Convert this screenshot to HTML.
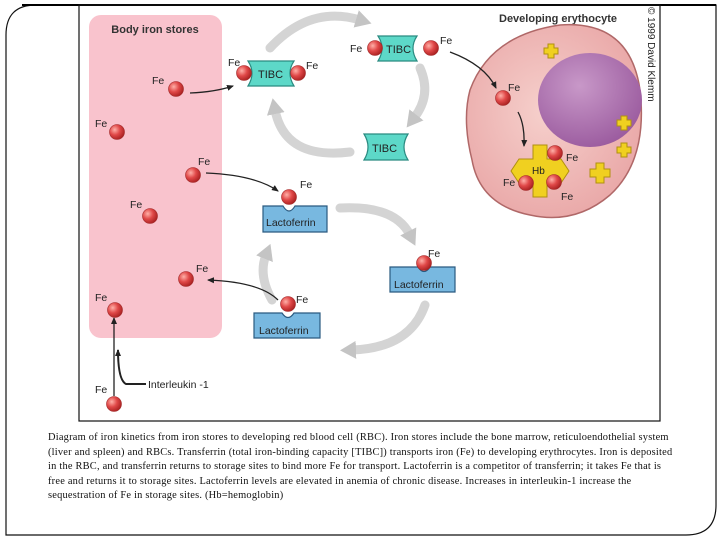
<!DOCTYPE html>
<html><head><style>
body{margin:0;width:720px;height:540px;background:#fff;overflow:hidden;position:relative;font-family:"Liberation Sans",sans-serif}
.cap{position:absolute;left:48px;top:431px;white-space:nowrap;font-family:"Liberation Serif",serif;font-size:10.4px;line-height:14.6px;color:#111;letter-spacing:0.22px}
</style></head><body>
<svg width="720" height="540" style="position:absolute;left:0;top:0">
<defs>
<radialGradient id="ball" cx="0.35" cy="0.35" r="0.7"><stop offset="0" stop-color="#ffb0a8"/><stop offset="0.5" stop-color="#e04848"/><stop offset="1" stop-color="#a82020"/></radialGradient>
<radialGradient id="cell" cx="0.45" cy="0.45" r="0.6"><stop offset="0" stop-color="#f6d0cc"/><stop offset="1" stop-color="#e9a7a7"/></radialGradient>
<radialGradient id="nuc" cx="0.4" cy="0.35" r="0.7"><stop offset="0" stop-color="#c898c8"/><stop offset="1" stop-color="#9a5a9e"/></radialGradient>
<marker id="ah" markerUnits="userSpaceOnUse" markerWidth="8" markerHeight="8" refX="6" refY="4" orient="auto"><path d="M0,1 L7,4 L0,7 z" fill="#222"/></marker>
<marker id="gh" markerUnits="userSpaceOnUse" markerWidth="16" markerHeight="18" refX="4" refY="9" orient="auto"><path d="M0,0 L16,9 L0,18 z" fill="#c4c4c4"/></marker>
</defs>
<path d="M36,5 H716 V505 Q716,535 686,535 H6 V35 Q6,5 36,5 Z" fill="none" stroke="#111" stroke-width="1.2"/>
<line x1="22" y1="5" x2="716" y2="5" stroke="#000" stroke-width="2"/>
<rect x="79" y="5" width="581" height="416" fill="none" stroke="#111" stroke-width="1.2"/>
<rect x="89" y="15" width="133" height="323" rx="12" fill="#f9c3cd"/>
<text x="155" y="33" font-size="11" font-weight="bold" text-anchor="middle" fill="#333">Body iron stores</text>
<text x="558" y="22" font-size="11" font-weight="bold" text-anchor="middle" fill="#333">Developing erythocyte</text>
<text transform="translate(648,7) rotate(90)" font-size="10" fill="#222">© 1999 David Klemm</text>
<g fill="none" stroke="#d4d4d4" stroke-width="9" stroke-linecap="round">
<path d="M270,48 Q310,5 360,20" marker-end="url(#gh)"/>
<path d="M420,68 Q432,95 414,118" marker-end="url(#gh)"/>
<path d="M350,152 Q285,160 275,110" marker-end="url(#gh)"/>
<path d="M340,208 Q395,205 410,235" marker-end="url(#gh)"/>
<path d="M425,305 Q410,348 352,350" marker-end="url(#gh)"/>
<path d="M272,300 Q258,275 266,255" marker-end="url(#gh)"/>
</g>
<path d="M470,90 Q490,35 560,25 Q630,20 640,90 Q648,160 610,195 Q575,225 530,215 Q480,205 472,160 Q462,120 470,90 Z" fill="url(#cell)" stroke="#b06868" stroke-width="1.5"/>
<ellipse cx="590" cy="100" rx="52" ry="47" fill="url(#nuc)"/>
<g fill="none" stroke="#222" stroke-width="1.3">
<path d="M190,93 Q215,92 233,86" marker-end="url(#ah)"/>
<path d="M206,173 Q255,175 278,191" marker-end="url(#ah)"/>
<path d="M278,300 Q260,282 208,280" marker-end="url(#ah)"/>
<path d="M450,52 Q485,65 496,88" marker-end="url(#ah)"/>
<path d="M518,112 Q525,125 524,146" marker-end="url(#ah)"/>
<path d="M114,396 V318" marker-end="url(#ah)"/>
<path d="M146,384 H126 Q118,380 118,350" stroke-width="2" marker-end="url(#ah)"/>
</g>
<g fill="#5dd8c8" stroke="#2a8a80" stroke-width="1.2">
<path d="M248,61 H294 Q286,73 294,86 H248 Q256,73 248,61 Z"/>
<path d="M378,36 H417 Q409,48 417,61 H378 Q386,48 378,36 Z"/>
<path d="M364,134 H408 Q400,147 408,160 H364 Q372,147 364,134 Z"/>
</g>
<g font-size="11" fill="#222">
<text x="258" y="78">TIBC</text><text x="386" y="53">TIBC</text><text x="372" y="152">TIBC</text>
</g>
<g fill="#78b8e0" stroke="#2a5a80" stroke-width="1.2">
<path d="M263,206 H283 Q289,216 295,206 H327 V232 H263 Z"/>
<path d="M390,267 H418 Q424,276 430,267 H455 V292 H390 Z"/>
<path d="M254,313 H282 Q288,322 294,313 H320 V338 H254 Z"/>
</g>
<g font-size="10.5" fill="#222">
<text x="266" y="226">Lactoferrin</text><text x="394" y="288">Lactoferrin</text><text x="259" y="334">Lactoferrin</text>
</g>
<path d="M533,145 h14 v14 h14 l8,12 l-8,12 h-14 v14 h-14 v-14 h-14 l-8,-12 l8,-12 h14 z" fill="#f0d020" stroke="#b09010"/>
<text x="532" y="174" font-size="10" fill="#222">Hb</text>
<g fill="#f0d020" stroke="#b09010">
<path d="M548,44 h6 v4 h4 v6 h-4 v4 h-6 v-4 h-4 v-6 h4 z"/>
<path d="M621,116 h6 v4 h4 v6 h-4 v4 h-6 v-4 h-4 v-6 h4 z"/>
<path d="M621,143 h6 v4 h4 v6 h-4 v4 h-6 v-4 h-4 v-6 h4 z"/>
<path d="M596,163 h8 v6 h6 v8 h-6 v6 h-8 v-6 h-6 v-8 h6 z"/>
</g>
<g fill="url(#ball)" stroke="#a02828" stroke-width="0.6">
<circle cx="176" cy="89" r="7.5"/><circle cx="117" cy="132" r="7.5"/><circle cx="193" cy="175" r="7.5"/>
<circle cx="150" cy="216" r="7.5"/><circle cx="186" cy="279" r="7.5"/><circle cx="115" cy="310" r="7.5"/>
<circle cx="114" cy="404" r="7.5"/>
<circle cx="244" cy="73" r="7.5"/><circle cx="298" cy="73" r="7.5"/>
<circle cx="375" cy="48" r="7.5"/><circle cx="431" cy="48" r="7.5"/>
<circle cx="289" cy="197" r="7.5"/><circle cx="424" cy="263" r="7.5"/><circle cx="288" cy="304" r="7.5"/>
<circle cx="503" cy="98" r="7.5"/><circle cx="555" cy="153" r="7.5"/><circle cx="554" cy="182" r="7.5"/><circle cx="526" cy="183" r="7.5"/>
</g>
<g font-size="10.5" fill="#222">
<text x="152" y="84">Fe</text><text x="95" y="127">Fe</text><text x="198" y="165">Fe</text>
<text x="130" y="208">Fe</text><text x="196" y="272">Fe</text><text x="95" y="301">Fe</text><text x="95" y="393">Fe</text>
<text x="228" y="66">Fe</text><text x="306" y="69">Fe</text><text x="350" y="52">Fe</text><text x="440" y="44">Fe</text>
<text x="300" y="188">Fe</text><text x="428" y="257">Fe</text><text x="296" y="303">Fe</text>
<text x="508" y="91">Fe</text><text x="566" y="161">Fe</text><text x="503" y="186">Fe</text><text x="561" y="200">Fe</text>
<text x="148" y="388">Interleukin -1</text>
</g>
</svg>
<div class="cap">Diagram of iron kinetics from iron stores to developing red blood cell (RBC). Iron stores include the bone marrow, reticuloendothelial system<br>(liver and spleen) and RBCs. Transferrin (total iron-binding capacity [TIBC]) transports iron (Fe) to developing erythrocytes. Iron is deposited<br>in the RBC, and transferrin returns to storage sites to bind more Fe for transport. Lactoferrin is a competitor of transferrin; it takes Fe that is<br>free and returns it to storage sites. Lactoferrin levels are elevated in anemia of chronic disease. Increases in interleukin-1 increase the<br>sequestration of Fe in storage sites. (Hb=hemoglobin)</div>
</body></html>
